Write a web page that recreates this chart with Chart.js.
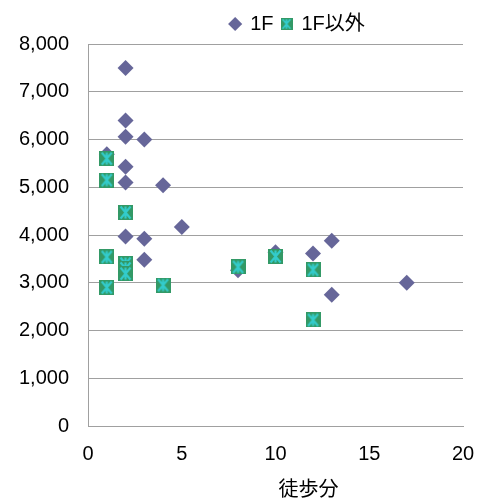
<!DOCTYPE html>
<html>
<head>
<meta charset="utf-8">
<script src="https://cdn.jsdelivr.net/npm/chart.js@4/dist/chart.umd.min.js"></script>
<style>
  html, body { margin: 0; padding: 0; background: #fff; }
  #wrap { width: 491px; height: 502px; }
</style>
</head>
<body>
<div id="wrap"><canvas id="c"></canvas></div>
<script>
// 1F
const walk1F = [1, 2, 2, 2, 2, 2, 2, 3, 3, 3, 4, 5, 8, 10, 12, 13, 13, 17];
const rent1F = [5690, 7500, 6400, 6060, 5430, 5100, 3970, 6000, 3920, 3480, 5040, 4170, 3260, 3640, 3610, 3880, 2750, 3000];
// 1F以外
const walkOther = [1, 1, 1, 1, 2, 2, 2, 2, 4, 8, 10, 12, 12];
const rentOther = [5600, 5150, 3540, 2900, 4470, 3400, 3300, 3190, 2950, 3330, 3550, 3270, 2220];

const xTicks = [0, 5, 10, 15, 20];
const yTicks = [0, 1000, 2000, 3000, 4000, 5000, 6000, 7000, 8000];

const FONT = 'Liberation Sans, Noto Sans CJK JP, sans-serif';
const toPoints = (xs, ys) => xs.map((x, i) => ({ x, y: ys[i] }));

// green square with cyan asterisk, like the spreadsheet marker
function starSquare(size) {
    const cv = document.createElement('canvas');
    cv.width = size;
    cv.height = size;
    const g = cv.getContext('2d');
    g.fillStyle = '#339966';
    g.fillRect(0, 0, size, size);
    g.strokeStyle = '#33cccc';
    g.lineWidth = Math.max(1.6, size / 7);
    const m = size * 0.1;
    g.beginPath();
    g.moveTo(size / 2, m);
    g.lineTo(size / 2, size - m);
    g.moveTo(m + 1, m);
    g.lineTo(size - m - 1, size - m);
    g.moveTo(size - m - 1, m);
    g.lineTo(m + 1, size - m);
    g.stroke();
    return cv;
}
const markBig = starSquare(15);
const markSmall = starSquare(12);

// the legend and the axis title sit right of centre in the original
const nudge = {
    id: 'nudge',
    afterLayout(chart) {
        chart.legend.left += 66;
        chart.legend.right += 66;
        const sx = chart.scales.x;
        if (!sx._nudged) {
            const orig = sx.drawTitle;
            sx.drawTitle = function (...args) {
                this.ctx.save();
                this.ctx.translate(33, 0);
                orig.apply(this, args);
                this.ctx.restore();
            };
            sx._nudged = true;
        }
    },
};

new Chart(document.getElementById('c'), {
    type: 'scatter',
    data: {
        datasets: [
            {
                label: '1F',
                data: toPoints(walk1F, rent1F),
                pointStyle: 'rectRot',
                pointRadius: 8,
                pointHoverRadius: 8,
                backgroundColor: '#666699',
                borderColor: '#666699',
                borderWidth: 0,
                order: 2,
            },
            {
                label: '1F以外',
                data: toPoints(walkOther, rentOther),
                pointStyle: markBig,
                pointRadius: 8,
                backgroundColor: '#339966',
                borderColor: '#339966',
                order: 1,
            },
        ],
    },
    options: {
        responsive: true,
        maintainAspectRatio: false,
        animation: false,
        layout: { padding: { left: 0, right: 28, top: 6, bottom: 0 } },
        plugins: {
            legend: {
                position: 'top',
                labels: {
                    usePointStyle: true,
                    boxWidth: 10,
                    boxHeight: 10,
                    padding: 8,
                    color: '#000',
                    font: { size: 20, family: FONT },
                    sort: (a, b) => a.datasetIndex - b.datasetIndex,
                    generateLabels(chart) {
                        const items = Chart.defaults.plugins.legend.labels.generateLabels(chart);
                        items.forEach((it) => {
                            if (it.datasetIndex === 1) it.pointStyle = markSmall;
                            it.lineWidth = 0;
                        });
                        return items;
                    },
                },
            },
            tooltip: { enabled: false },
        },
        scales: {
            x: {
                type: 'linear',
                min: 0,
                max: 20,
                afterBuildTicks: (s) => { s.ticks = xTicks.map((v) => ({ value: v })); },
                grid: { display: false, drawTicks: false },
                border: { display: true, color: '#a0a0a0', width: 1 },
                ticks: {
                    color: '#000',
                    padding: 16,
                    font: { size: 20, family: FONT },
                },
                title: {
                    display: true,
                    text: '徒歩分',
                    color: '#000',
                    font: { size: 20, family: FONT },
                    padding: { top: -4, bottom: 0 },
                },
            },
            y: {
                min: 0,
                max: 8000,
                afterBuildTicks: (s) => { s.ticks = yTicks.map((v) => ({ value: v })); },
                grid: { color: '#a0a0a0', drawTicks: false },
                border: { display: true, color: '#a0a0a0', width: 1 },
                ticks: {
                    color: '#000',
                    padding: 19,
                    font: { size: 20, family: FONT },
                    callback: (v) => Number(v).toLocaleString('en-US'),
                },
            },
        },
    },
    plugins: [nudge],
});
</script>
</body>
</html>
